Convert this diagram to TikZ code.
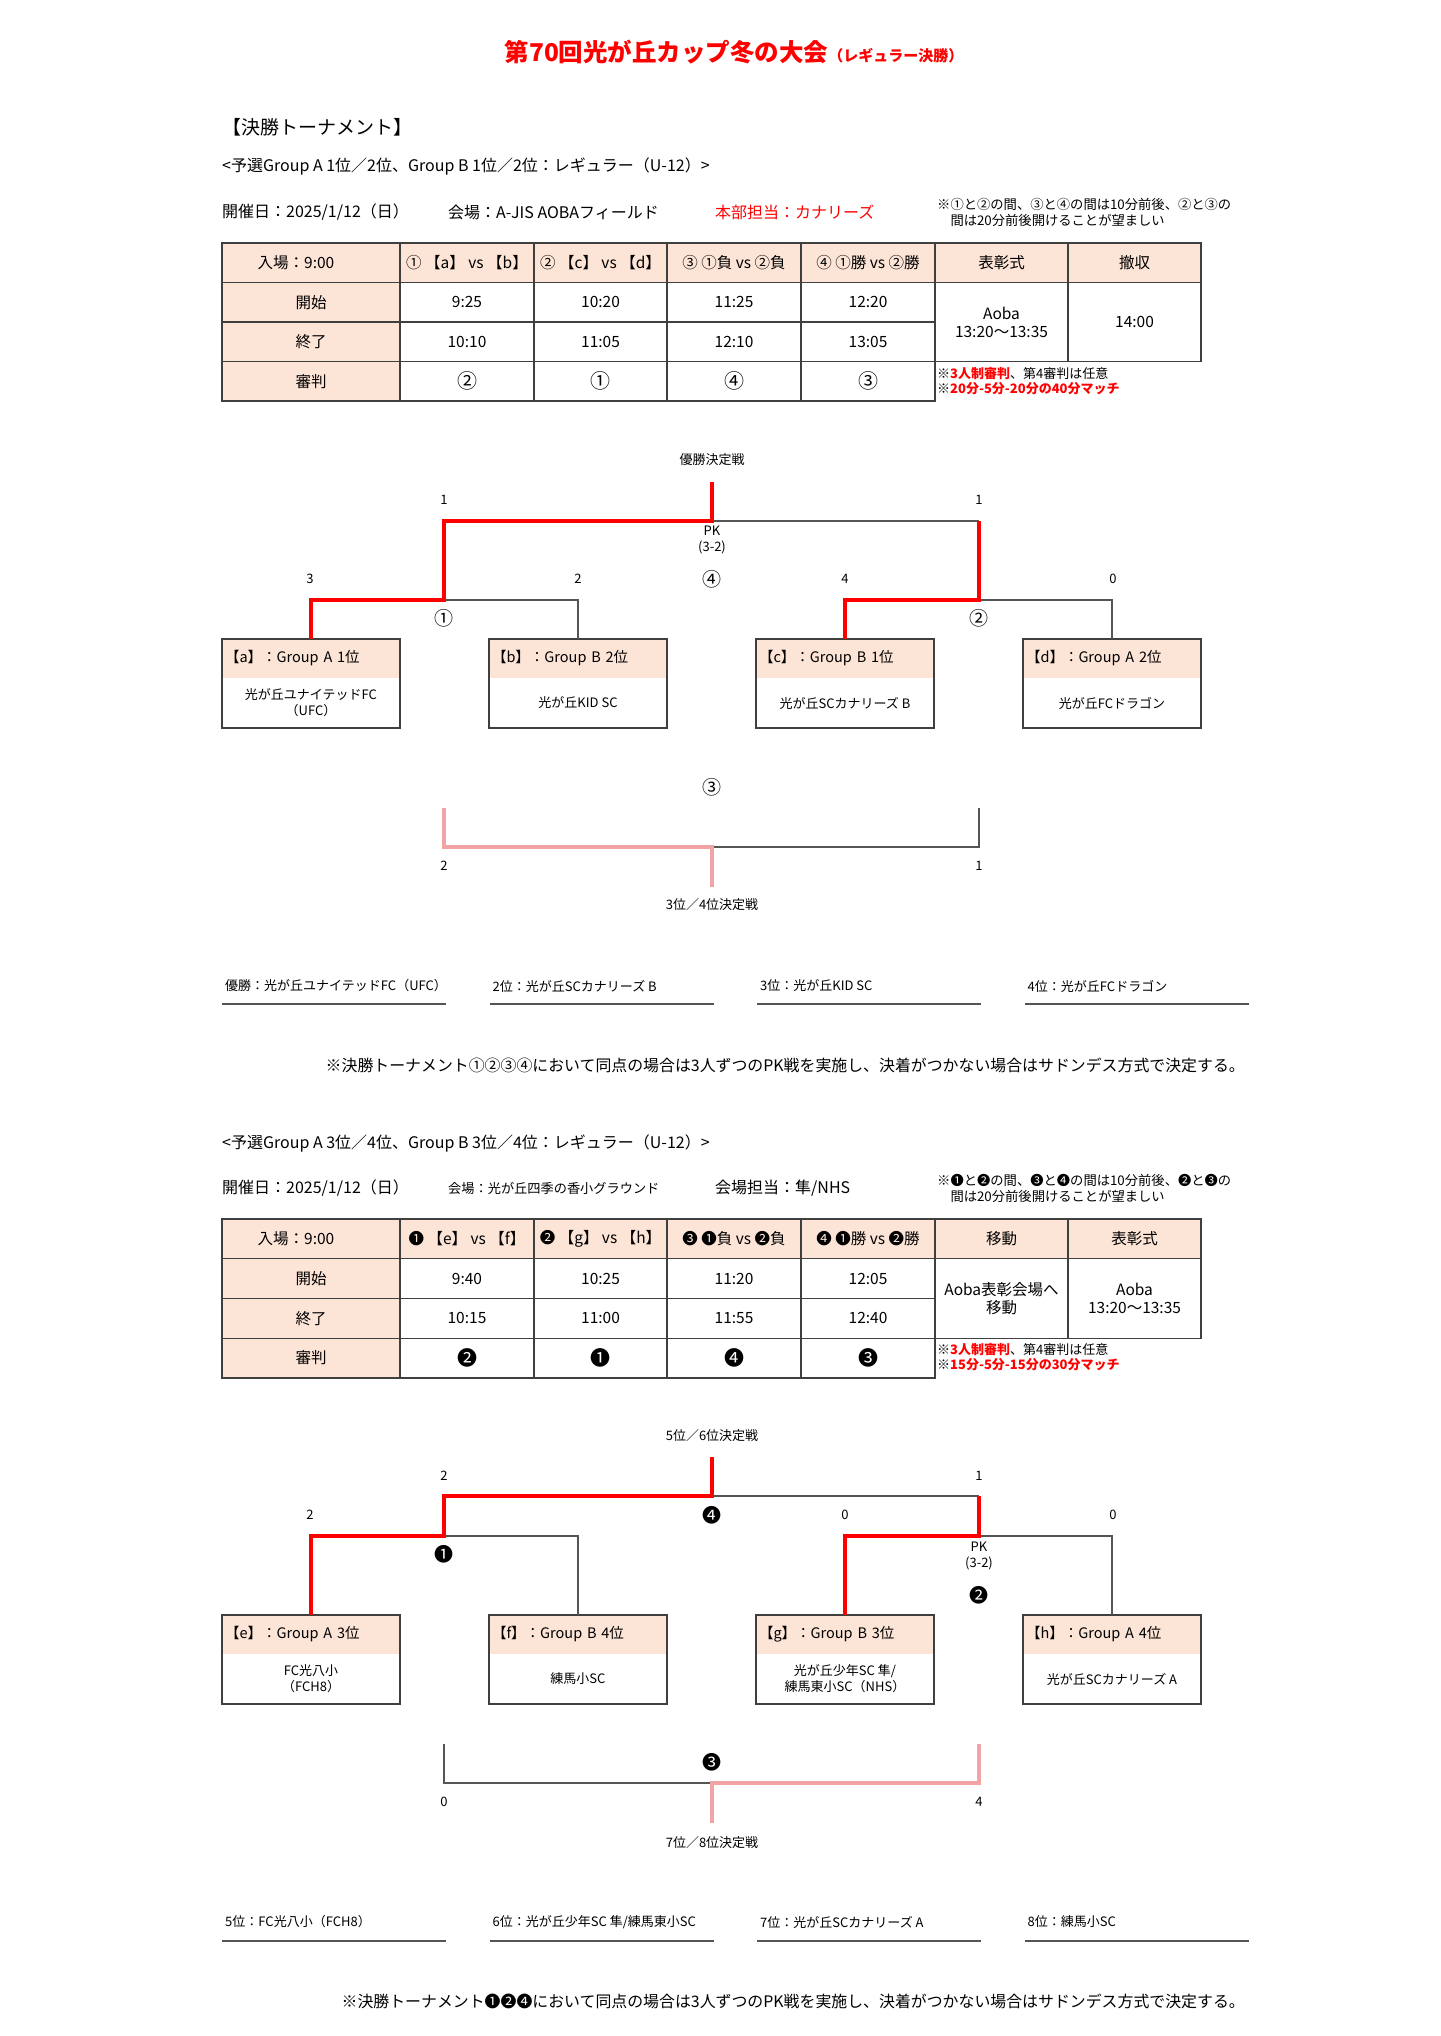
\documentclass[tikz,border=0pt]{standalone}
\usepackage{fontspec}
\setmainfont{Noto Sans CJK JP}
\usetikzlibrary{positioning}
\definecolor{hot}{HTML}{FF0000}
\definecolor{peach}{HTML}{FCE4D6}
\definecolor{rose}{HTML}{F2A3A6}
\definecolor{edge}{HTML}{3F3F3F}
\definecolor{wirec}{HTML}{555555}
\newcommand{\fsz}[2]{\fontsize{#1}{#2}\selectfont}
\tikzset{hcell/.style={draw=edge,fill=peach,line width=1.3pt,minimum height=39.5pt,inner sep=0pt,outer sep=0pt,font=\fsz{15.5}{18}},
  vcell/.style={hcell,fill=white},
  teamhd/.style={fill=peach,text width=172pt,inner xsep=3pt,inner ysep=0pt,outer sep=0pt,minimum height=39pt,align=left,font=\fsz{14.5}{17}},
  teambd/.style={fill=white,minimum width=178pt,minimum height=50pt,inner sep=0pt,outer sep=0pt,align=center,font=\fsz{13}{16}},
  boxline/.style={draw=edge,line width=1.3pt},
  win/.style={draw=hot,line width=3.2pt},
  lose/.style={draw=wirec,line width=1.3pt},
  third/.style={draw=rose,line width=3.2pt},
  lbl/.style={inner sep=0pt,font=\fsz{13}{16}},
  circ/.style={inner sep=0pt,font=\fsz{19}{22}},
  txt/.style={inner sep=0pt,anchor=west,font=\fsz{16}{19}},
  memo/.style={inner sep=0pt,anchor=west,align=left,font=\fsz{13.3}{16}},
  redmemo/.style={inner sep=0pt,anchor=west,align=left,font=\fsz{13}{15.5}},
  uline/.style={draw=wirec,line width=1.5pt}}
\begin{document}
\begin{tikzpicture}[x=1pt,y=-1pt]
\useasboundingbox[fill=white] (0,0) rectangle (1440,2036);
% heading
\node[inner sep=0pt,text=hot,font=\bfseries] (title) at (734,52) {\fsz{24.5}{28}第70回光が丘カップ冬の大会\fsz{15}{16}（レギュラー決勝）};
\node[txt,font=\fsz{19}{22}] (sec) at (222,127) {【決勝トーナメント】};
% ---- upper block
\node[txt] (g1) at (222,166) {<予選Group A 1位／2位、Group B 1位／2位：レギュラー（U-12）>};
\node[txt] (d1) at (222,212) {開催日：2025/1/12（日）};
\node[txt] (v1) at (448,212) {会場：A-JIS AOBAフィールド};
\node[txt,text=hot] (o1) at (715,212) {本部担当：カナリーズ};
\node[memo] (m1) at (937,212) {※①と②の間、③と④の間は10分前後、②と③の\\　間は20分前後開けることが望ましい};
\foreach \x/\w/\t [count=\i] in {311/178/{入場：9:00\hspace*{30pt}},467/134/{① 【a】 vs 【b】},600.5/133/{② 【c】 vs 【d】},734/134/{③ ①負 vs ②負},868/134/{④ ①勝 vs ②勝},1001.5/133/表彰式,1134.5/133/撤収}
 \node[hcell,minimum width=\w pt] (p1h\i) at (\x,262.75) {\t};
\foreach \t/\y [count=\i] in {開始/302.25,終了/341.75,審判/381.25}
 \node[hcell,minimum width=178pt] (p1r\i) at (311,\y) {\t};
\foreach \x/\w/\s/\e/\r [count=\i] in {467/134/9:25/10:10/②,600.5/133/10:20/11:05/①,734/134/11:25/12:10/④,868/134/12:20/13:05/③}{
 \node[vcell,minimum width=\w pt] (p1s\i) at (\x,302.25) {\s};
 \node[vcell,minimum width=\w pt] (p1e\i) at (\x,341.75) {\e};
 \node[vcell,minimum width=\w pt,font=\fsz{20}{24}] (p1j\i) at (\x,381.25) {\r};
}
\node[vcell,minimum width=133pt,minimum height=79pt,align=center] (p1x) at (1001.5,322) {Aoba\\13:20〜13:35};
\node[vcell,minimum width=133pt,minimum height=79pt] (p1y) at (1134.5,322) {14:00};
\node[redmemo] (p1n) at (937,381) {※{\color{hot}\bfseries 3人制審判}、第4審判は任意\\※{\color{hot}\bfseries 20分-5分-20分の40分マッチ}};
% bracket 1
\foreach \k/\x/\h/\b in {a/311/{【a】：Group A 1位}/{光が丘ユナイテッドFC\\（UFC）},b/578/{【b】：Group B 2位}/{光が丘KID SC},c/845/{【c】：Group B 1位}/{光が丘SCカナリーズ B},d/1112/{【d】：Group A 2位}/{光が丘FCドラゴン}}{
 \node[teamhd] (\k) at (\x,658.5) {\h};
 \node[teambd,below=0pt of \k] (\k-n) {\b};
 \draw[boxline] (\k.north west) rectangle (\k-n.south east);
}
\coordinate (f1) at (712,521);
\coordinate (f1t) at (712,482);
\coordinate (sf1) at (444,600);
\coordinate (sf2) at (979,600);
\draw[lose] (b.north) |- (sf1);
\draw[lose] (d.north) |- (sf2);
\draw[lose] (sf2 |- f1) -- (f1);
\draw[win] (a.north) |- (sf1) |- (f1) -- (f1t);
\draw[win] (c.north) |- (sf2) -- (sf2 |- f1);
\node[lbl] (fin1) at (712,460) {優勝決定戦};
\node[lbl] (s1l) at (444,500) {1};
\node[lbl] (s1r) at (979,500) {1};
\node[lbl,align=center] (pk1) at (712,540) {PK\\(3-2)};
\node[circ] (k4) at (712,579) {④};
\foreach \x/\s [count=\i] in {310/3,578/2,845/4,1113/0}
 \node[lbl] (s1\i) at (\x,579) {\s};
\node[circ] (k1) at (444,618) {①};
\node[circ] (k2) at (979,618) {②};
% 3rd place 1
\node[circ] (k3) at (712,787) {③};
\coordinate (t1l) at (444,808);
\coordinate (t1r) at (979,808);
\coordinate (t1) at (712,847);
\coordinate (t1b) at (712,887);
\draw[lose] (t1r) |- (t1);
\draw[third] (t1l) |- (t1) -- (t1b);
\node[lbl] (s3l) at (444,866) {2};
\node[lbl] (s3r) at (979,866) {1};
\node[lbl] (thr1) at (712,905) {3位／4位決定戦};
\foreach \x/\t [count=\i] in {222/{優勝：光が丘ユナイテッドFC（UFC）},489.5/{2位：光が丘SCカナリーズ B},757/{3位：光が丘KID SC},1024.5/{4位：光が丘FCドラゴン}}{
 \node[lbl,anchor=west] (r1\i) at (\x+3,986) {\t};
 \draw[uline] (\x,1004) -- ++(224,0);
}
\node[inner sep=0pt,anchor=east,font=\fsz{15.9}{18}] (ps1) at (1245,1065) {※決勝トーナメント①②③④において同点の場合は3人ずつのPK戦を実施し、決着がつかない場合はサドンデス方式で決定する。};
% ---- lower block
\node[txt] (g2) at (222,1143) {<予選Group A 3位／4位、Group B 3位／4位：レギュラー（U-12）>};
\node[txt] (d2) at (222,1188) {開催日：2025/1/12（日）};
\node[txt,font=\fsz{13.2}{16}] (v2) at (448,1188) {会場：光が丘四季の香小グラウンド};
\node[txt] (o2) at (715,1188) {会場担当：隼/NHS};
\node[memo] (m2) at (937,1188) {※❶と❷の間、❸と❹の間は10分前後、❷と❸の\\　間は20分前後開けることが望ましい};
\foreach \x/\w/\t [count=\i] in {311/178/{入場：9:00\hspace*{30pt}},467/134/{❶ 【e】 vs 【f】},600.5/133/{❷ 【g】 vs 【h】},734/134/{❸ ❶負 vs ❷負},868/134/{❹ ❶勝 vs ❷勝},1001.5/133/移動,1134.5/133/表彰式}
 \node[hcell,minimum width=\w pt,minimum height=39.75pt] (p2h\i) at (\x,1238.9) {\t};
\foreach \t/\y [count=\i] in {開始/1278.6,終了/1318.4,審判/1358.1}
 \node[hcell,minimum width=178pt,minimum height=39.75pt] (p2r\i) at (311,\y) {\t};
\foreach \x/\w/\s/\e/\r [count=\i] in {467/134/9:40/10:15/❷,600.5/133/10:25/11:00/❶,734/134/11:20/11:55/❹,868/134/12:05/12:40/❸}{
 \node[vcell,minimum width=\w pt,minimum height=39.75pt] (p2s\i) at (\x,1278.6) {\s};
 \node[vcell,minimum width=\w pt,minimum height=39.75pt] (p2e\i) at (\x,1318.4) {\e};
 \node[vcell,minimum width=\w pt,minimum height=39.75pt,font=\fsz{20}{24}] (p2j\i) at (\x,1358.1) {\r};
}
\node[vcell,minimum width=133pt,minimum height=79.5pt,align=center] (p2x) at (1001.5,1298.5) {Aoba表彰会場へ\\移動};
\node[vcell,minimum width=133pt,minimum height=79.5pt,align=center] (p2y) at (1134.5,1298.5) {Aoba\\13:20〜13:35};
\node[redmemo] (p2n) at (937,1357) {※{\color{hot}\bfseries 3人制審判}、第4審判は任意\\※{\color{hot}\bfseries 15分-5分-15分の30分マッチ}};
% bracket 2
\foreach \k/\x/\h/\b in {e/311/{【e】：Group A 3位}/{FC光八小\\（FCH8）},f/578/{【f】：Group B 4位}/{練馬小SC},g/845/{【g】：Group B 3位}/{光が丘少年SC 隼/\\練馬東小SC（NHS）},h/1112/{【h】：Group A 4位}/{光が丘SCカナリーズ A}}{
 \node[teamhd] (\k) at (\x,1634.5) {\h};
 \node[teambd,below=0pt of \k] (\k-n) {\b};
 \draw[boxline] (\k.north west) rectangle (\k-n.south east);
}
\coordinate (f2) at (712,1496);
\coordinate (f2t) at (712,1457);
\coordinate (sf3) at (444,1536);
\coordinate (sf4) at (979,1536);
\draw[lose] (f.north) |- (sf3);
\draw[lose] (h.north) |- (sf4);
\draw[lose] (sf4 |- f2) -- (f2);
\draw[win] (e.north) |- (sf3) |- (f2) -- (f2t);
\draw[win] (g.north) |- (sf4) -- (sf4 |- f2);
\node[lbl] (fin2) at (712,1436) {5位／6位決定戦};
\node[lbl] (s2l) at (444,1476) {2};
\node[lbl] (s2r) at (979,1476) {1};
\foreach \x/\s [count=\i] in {310/2,845/0,1113/0}
 \node[lbl] (s2\i) at (\x,1515) {\s};
\node[circ] (q4) at (712,1515) {❹};
\node[circ] (q1) at (444,1554) {❶};
\node[lbl,align=center] (pk2) at (979,1556) {PK\\(3-2)};
\node[circ] (q2) at (979,1595) {❷};
% 7th place
\node[circ] (q3) at (712,1762) {❸};
\coordinate (t2l) at (444,1744);
\coordinate (t2r) at (979,1744);
\coordinate (t2) at (712,1783);
\coordinate (t2b) at (712,1823);
\draw[lose] (t2l) |- (t2);
\draw[third] (t2r) |- (t2) -- (t2b);
\node[lbl] (s4l) at (444,1802) {0};
\node[lbl] (s4r) at (979,1802) {4};
\node[lbl] (thr2) at (712,1843) {7位／8位決定戦};
\foreach \x/\t [count=\i] in {222/{5位：FC光八小（FCH8）},489.5/{6位：光が丘少年SC 隼/練馬東小SC},757/{7位：光が丘SCカナリーズ A},1024.5/{8位：練馬小SC}}{
 \node[lbl,anchor=west] (r2\i) at (\x+3,1922) {\t};
 \draw[uline] (\x,1941) -- ++(224,0);
}
\node[inner sep=0pt,anchor=east,font=\fsz{15.9}{18}] (ps2) at (1245,2001) {※決勝トーナメント❶❷❹において同点の場合は3人ずつのPK戦を実施し、決着がつかない場合はサドンデス方式で決定する。};
\end{tikzpicture}
\end{document}
